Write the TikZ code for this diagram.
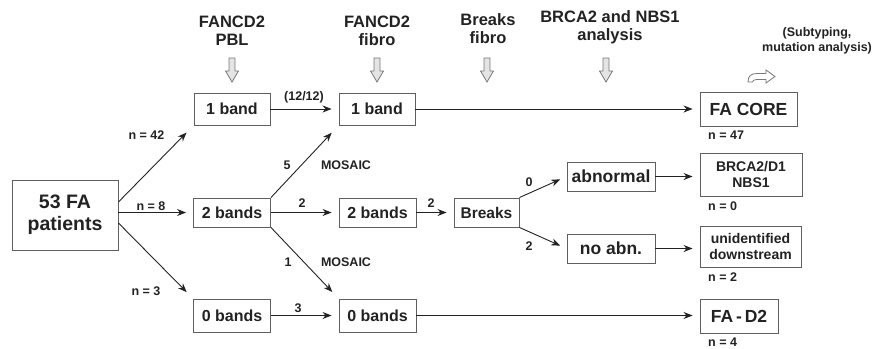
\documentclass[tikz,border=0pt]{standalone}
\usepackage{fontspec}
\setmainfont{Liberation Sans}
\usetikzlibrary{arrows.meta,positioning,calc}
\definecolor{TextDark}{RGB}{34,34,34}
\definecolor{BoxGray}{RGB}{95,95,95}
\definecolor{HollowFill}{RGB}{228,228,228}
\definecolor{HollowLine}{RGB}{120,120,120}
\begin{document}
\begin{tikzpicture}[x=1pt,y=-1pt,
    box/.style={draw=BoxGray, line width=0.9pt, inner sep=0pt, align=center, text=TextDark,
      font=\bfseries\fontsize{16}{18}\selectfont},
    hdr/.style={align=center, text=TextDark, inner sep=0pt, font=\bfseries\fontsize{16.5}{18}\selectfont},
    lbl/.style={text=TextDark, inner sep=0pt, font=\bfseries\fontsize{12.5}{15}\selectfont},
    flow/.style={-{Stealth[length=9pt,width=7pt]}, line width=0.9pt, draw=TextDark, shorten >=7pt},
    hollow/.style={draw=HollowLine, fill=HollowFill, line width=0.8pt, line join=miter}]
  \useasboundingbox (0,0) rectangle (877,348);
  % column headings
  \node[hdr] (hPBL) at (232,31) {FANCD2\\PBL};
  \node[hdr] (hFib) at (377,31) {FANCD2\\fibro};
  \node[hdr] (hBrk) at (488,29) {Breaks\\fibro};
  \node[hdr] (hAna) at (610,27) {BRCA2 and NBS1\\analysis};
  \node[lbl, align=center] (hSub) at (817,41) {(Subtyping,\\mutation analysis)};
  \foreach \x in {232,377,487,606}
    \draw[hollow] (\x-3,58) -- (\x+3,58) -- (\x+3,71) -- (\x+6.5,71) -- (\x,82) -- (\x-6.5,71) -- (\x-3,71) -- cycle;
  \draw[hollow, fill=white] (748,82) .. controls (748,76) and (751,73.5) .. (757,73.5) -- (766,73.5) -- (766,70)
    -- (775,76.5) -- (766,83) -- (766,79.5) -- (757,79.5) .. controls (754,79.5) and (752.5,80.5) .. (752.5,82) -- cycle;
  % boxes
  \node[box, minimum width=106, minimum height=70, font=\bfseries\fontsize{19.5}{22}\selectfont] (pat) at (65,215) {53 FA\\patients};
  \node[box, minimum width=76, minimum height=32] (b1p) at (232,109) {1 band};
  \node[box, minimum width=77, minimum height=29] (b2p) at (232,212.5) {2 bands};
  \node[box, minimum width=77, minimum height=33] (b0p) at (232,315.5) {0 bands};
  \node[box, minimum width=76, minimum height=32] (b1f) at (377,109) {1 band};
  \node[box, minimum width=77, minimum height=29] (b2f) at (377.5,212.5) {2 bands};
  \node[box, minimum width=77, minimum height=33] (b0f) at (377.5,315.5) {0 bands};
  \node[box, minimum width=65, minimum height=29, font=\bfseries\fontsize{15.5}{18}\selectfont] (brk) at (486.5,212.5) {Breaks};
  \node[box, minimum width=88, minimum height=29, font=\bfseries\fontsize{17.5}{20}\selectfont] (abn) at (611,176.5) {abnormal};
  \node[box, minimum width=88, minimum height=29, font=\bfseries\fontsize{17.5}{20}\selectfont] (noa) at (611,248.5) {no abn.};
  \node[box, minimum width=97, minimum height=34, font=\bfseries\fontsize{17.5}{20}\selectfont] (core) at (748.5,109) {FA CORE};
  \node[box, minimum width=102, minimum height=43, font=\bfseries\fontsize{14}{16}\selectfont] (brca) at (751,174.5) {BRCA2/D1\\NBS1};
  \node[box, minimum width=101, minimum height=41, font=\bfseries\fontsize{14}{16}\selectfont] (unid) at (750.5,246.5) {unidentified\\downstream};
  \node[box, minimum width=78, minimum height=34, font=\bfseries\fontsize{17.5}{20}\selectfont] (fad2) at (739,316) {FA\,-\,D2};
  % counts
  \node[lbl, anchor=west] (nCore) at (708,135) {n = 47};
  \node[lbl, anchor=west] (nBrca) at (708,206) {n = 0};
  \node[lbl, anchor=west] (nUnid) at (708,277) {n = 2};
  \node[lbl, anchor=west] (nFad2) at (708,342) {n = 4};
  % arrows
  \draw[flow, shorten >=10pt] ([yshift=13pt]pat.east) -- (b1p.south west);
  \draw[flow] (pat.east |- b2p.west) -- (b2p.west);
  \draw[flow, shorten >=9pt] ([yshift=-8pt]pat.east) -- (b0p.north west);
  \draw[flow] (b1p) -- (b1f);
  \draw[flow, shorten >=10pt] (b2p.north east) -- (b1f.south west);
  \draw[flow] (b2p) -- (b2f);
  \draw[flow, shorten >=9pt] (b2p.south east) -- (b0f.north west);
  \draw[flow] (b0p) -- (b0f);
  \draw[flow] (b1f) -- (core);
  \draw[flow] (b2f) -- (brk);
  \draw[flow] (brk.north east) -- (abn.west);
  \draw[flow] (brk.south east) -- (noa.west);
  \draw[flow] (abn.east) -- (abn.east -| brca.west);
  \draw[flow] (noa.east) -- (noa.east -| unid.west);
  \draw[flow] (b0f.east) -- (b0f.east -| fad2.west);
  % arrow labels
  \node[lbl] (l42) at (146.5,135) {n = 42};
  \node[lbl] (l8) at (151,206) {n = 8};
  \node[lbl] (l3) at (146,291) {n = 3};
  \node[lbl] (l12) at (304,97) {(12/12)};
  \node[lbl] (l5) at (287,165) {5};
  \node[lbl] (lMosA) at (346,165) {MOSAIC};
  \node[lbl] (l2a) at (302,203) {2};
  \node[lbl] (l1) at (288,262) {1};
  \node[lbl] (lMosB) at (346,262) {MOSAIC};
  \node[lbl] (l3b) at (298,308) {3};
  \node[lbl] (l2b) at (431,203) {2};
  \node[lbl] (l0) at (529,182) {0};
  \node[lbl] (l2c) at (529,246) {2};
\end{tikzpicture}
\end{document}
